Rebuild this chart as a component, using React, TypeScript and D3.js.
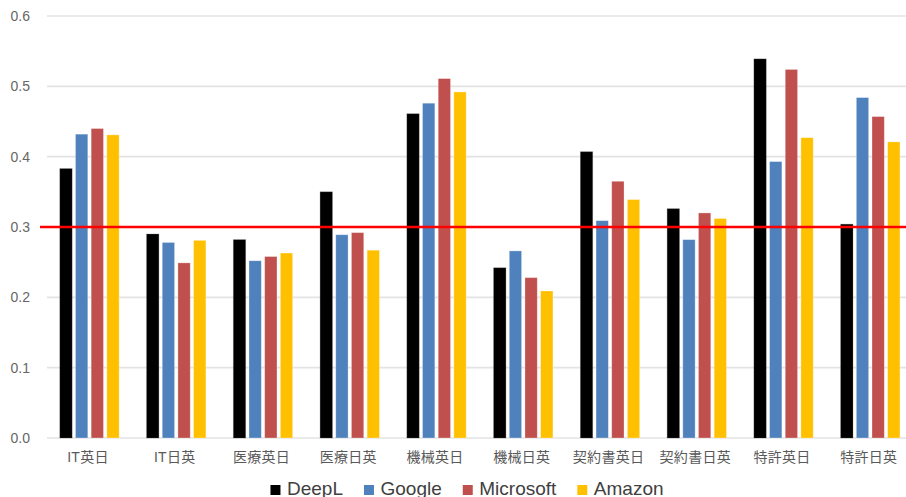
import React, { useEffect, useRef } from "react";
import * as d3 from "d3";

const categories = ["IT英日", "IT日英", "医療英日", "医療日英", "機械英日", "機械日英", "契約書英日", "契約書日英", "特許英日", "特許日英"];
const seriesNames = ["DeepL", "Google", "Microsoft", "Amazon"];
const deepl = [0.383, 0.290, 0.282, 0.350, 0.461, 0.242, 0.407, 0.326, 0.539, 0.304];
const google = [0.432, 0.278, 0.252, 0.289, 0.476, 0.266, 0.309, 0.282, 0.393, 0.484];
const microsoft = [0.440, 0.249, 0.258, 0.292, 0.511, 0.228, 0.365, 0.320, 0.524, 0.457];
const amazon = [0.431, 0.281, 0.263, 0.267, 0.492, 0.209, 0.339, 0.312, 0.427, 0.421];
const yTicks = [0, 0.1, 0.2, 0.3, 0.4, 0.5, 0.6];
const threshold = 0.3;
const colors = ["#000000", "#4f81bd", "#c0504d", "#ffc000"];

const W = 906;
const H = 497;
const FONT = "'Liberation Sans', Arial, 'Noto Sans CJK JP', sans-serif";

export default function App() {
  const ref = useRef<SVGSVGElement>(null);

  useEffect(() => {
    const svg = d3.select(ref.current);
    svg.selectAll("*").remove();
    const values = [deepl, google, microsoft, amazon];

    const x0 = d3.scaleBand<string>().domain(categories).range([46.1, 913.7]).paddingInner(0).paddingOuter(0);
    const x1 = d3.scaleBand<string>().domain(seriesNames).range([0, x0.bandwidth()]).paddingInner(0.215).paddingOuter(0.876);
    const y = d3.scaleLinear().domain([0, 0.6]).range([438, 16]);

    // gridlines
    svg.append("g").selectAll("line").data(yTicks).join("line")
      .attr("x1", 47).attr("x2", W)
      .attr("y1", (d) => y(d)).attr("y2", (d) => y(d))
      .attr("stroke", "#e3e3e3").attr("stroke-width", 1.6);

    // y tick labels
    svg.append("g").selectAll("text").data(yTicks).join("text")
      .attr("x", 30).attr("y", (d) => y(d)).attr("dy", "0.36em")
      .attr("text-anchor", "end")
      .attr("font-family", FONT).attr("font-size", 14).attr("fill", "#666")
      .text((d) => d3.format(".1f")(d));

    // bars
    const groups = svg.append("g").selectAll("g").data(categories).join("g")
      .attr("transform", (c) => `translate(${x0(c)},0)`);
    groups.selectAll("rect")
      .data((c) => seriesNames.map((s, k) => ({ s, k, v: values[k][categories.indexOf(c)] })))
      .join("rect")
      .attr("x", (d) => x1(d.s)!)
      .attr("width", x1.bandwidth())
      .attr("y", (d) => y(d.v))
      .attr("height", (d) => y(0) - y(d.v))
      .attr("fill", (d) => colors[d.k])
      .attr("stroke", (d) => (d.k === 0 ? "#555" : "#fff"))
      .attr("stroke-opacity", 0.35)
      .attr("stroke-width", 0.8);

    // x labels
    svg.append("g").selectAll("text").data(categories).join("text")
      .attr("x", (c) => x0(c)! + x0.bandwidth() / 2 - 1.5)
      .attr("y", 457).attr("dy", "0.36em")
      .attr("text-anchor", "middle")
      .attr("font-family", FONT).attr("font-size", 14).attr("letter-spacing", 0.3).attr("fill", "#595959")
      .text((c) => c);

    // threshold line
    svg.append("line")
      .attr("x1", 40).attr("x2", W)
      .attr("y1", y(threshold)).attr("y2", y(threshold))
      .attr("stroke", "#ff0000").attr("stroke-width", 2.5);

    // legend
    const leg = svg.append("g");
    const items = leg.selectAll("g").data(seriesNames).join("g");
    items.append("rect").attr("x", 0).attr("y", 485).attr("width", 10).attr("height", 10)
      .attr("fill", (d, i) => colors[i]);
    const texts = items.append("text").attr("x", 16.5).attr("y", 494.5)
      .attr("font-family", FONT).attr("font-size", 19).attr("fill", "#404040")
      .text((d) => d);
    let cx = 0;
    const offsets: number[] = [];
    texts.each(function () {
      offsets.push(cx);
      const w = (this as SVGTextElement).getComputedTextLength();
      cx += 16.5 + w + 21;
    });
    const total = cx - 21;
    const start = 467 - total / 2;
    items.attr("transform", (d, i) => `translate(${start + offsets[i]},0)`);
  }, []);

  return (
    <div style={{ position: "fixed", left: 0, top: 0 }}>
      <svg ref={ref} width={W} height={H} style={{ display: "block", background: "#fff" }} />
    </div>
  );
}
